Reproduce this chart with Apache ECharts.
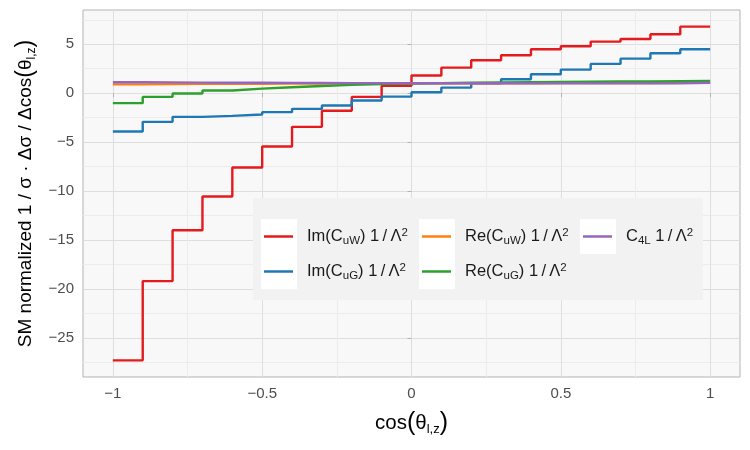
<!DOCTYPE html>
<html>
<head>
<meta charset="utf-8">
<script src="https://cdn.jsdelivr.net/npm/echarts@6/dist/echarts.min.js"></script>
<style>
  html, body { margin: 0; padding: 0; background: #fff; }
  #main { width: 750px; height: 450px; }
</style>
</head>
<body>
<div id="main"></div>
<script>
// bin edges of cos(theta_l,z), 20 bins
var binEdges = [-1, -0.9, -0.8, -0.7, -0.6, -0.5, -0.4, -0.3, -0.2, -0.1, 0,
                0.1, 0.2, 0.3, 0.4, 0.5, 0.6, 0.7, 0.8, 0.9, 1];

var imCuW = [-27.3, -19.2, -14.0, -10.55, -7.6, -5.45, -3.44, -1.8, -0.38, 0.76,
             1.8, 2.61, 3.37, 3.88, 4.49, 4.8, 5.27, 5.54, 6.02, 6.8];
var imCuG = [-3.92, -2.93, -2.42, -2.32, -2.18, -1.94, -1.6, -1.26, -0.75, -0.35,
             0.1, 0.57, 1.02, 1.43, 1.94, 2.41, 2.99, 3.53, 4.08, 4.49];
var reCuW = [0.9, 0.93, 0.95, 0.96, 0.97, 0.98, 0.99, 1.0, 1.0, 1.0,
             1.01, 1.01, 1.02, 1.02, 1.03, 1.03, 1.04, 1.04, 1.05, 1.05];
var reCuG = [-1.02, -0.38, -0.03, 0.27, 0.47, 0.61, 0.74, 0.85, 0.93, 0.98,
             1.03, 1.07, 1.1, 1.13, 1.15, 1.17, 1.19, 1.2, 1.22, 1.24];
var c4L   = [1.12, 1.1, 1.08, 1.07, 1.06, 1.05, 1.04, 1.03, 1.03, 1.02,
             1.02, 1.01, 1.01, 1.0, 1.0, 1.0, 1.0, 1.0, 1.02, 1.06];

var xTicks = [-1, -0.5, 0, 0.5, 1];
var xMinor = [-0.75, -0.25, 0.25, 0.75];
var yTicks = [-25, -20, -15, -10, -5, 0, 5];
var yMinor = [-27.5, -22.5, -17.5, -12.5, -7.5, -2.5, 2.5, 7.5];

var names = ['Im(CuW)', 'Im(CuG)', 'Re(CuW)', 'Re(CuG)', 'C4L'];
var labels = {
    'Im(CuW)': 'Im(C{sub|uW}) 1\u2009/\u2009Λ{sup|2}',
    'Im(CuG)': 'Im(C{sub|uG}) 1\u2009/\u2009Λ{sup|2}',
    'Re(CuW)': 'Re(C{sub|uW}) 1\u2009/\u2009Λ{sup|2}',
    'Re(CuG)': 'Re(C{sub|uG}) 1\u2009/\u2009Λ{sup|2}',
    'C4L': 'C{sub|4L} 1\u2009/\u2009Λ{sup|2}'
};
var colors = ['#E41A1C', '#1F78B4', '#FF7F0E', '#2CA02C', '#9467BD'];

var FONT = '"Liberation Sans", Arial, Helvetica, sans-serif';

function stepData(vals) {
    // points at left bin edges, closing point at the last edge
    return binEdges.map(function (x, i) {
        return [x, vals[Math.min(i, vals.length - 1)]];
    });
}

function minus(v) {
    return String(v).replace('-', '\u2212');
}

var richText = {
    sub: { fontSize: 11.5, verticalAlign: 'bottom', lineHeight: 17, fontFamily: FONT, color: '#1a1a1a' },
    sup: { fontSize: 11.5, verticalAlign: 'top', lineHeight: 12, fontFamily: FONT, color: '#1a1a1a' }
};

function buildChart() {
    var chart = echarts.init(document.getElementById('main'), null, { renderer: 'canvas' });

    var seriesVals = [imCuW, imCuG, reCuW, reCuG, c4L];
    var series = seriesVals.map(function (vals, i) {
        return {
            name: names[i],
            type: 'line',
            step: 'end',
            xAxisIndex: 1,
            yAxisIndex: 1,
            showSymbol: false,
            symbol: 'none',
            lineStyle: { width: 2.4, color: colors[i] },
            itemStyle: { color: colors[i] },
            emphasis: { disabled: true },
            data: stepData(vals)
        };
    });

    // legend, one component per entry (column-major like ggplot)
    var legendPos = [
        { name: 'Im(CuW)', left: 264, top: 226.5 },
        { name: 'Im(CuG)', left: 264, top: 261.5 },
        { name: 'Re(CuW)', left: 422, top: 226.5 },
        { name: 'Re(CuG)', left: 422, top: 261.5 },
        { name: 'C4L', left: 583, top: 226.5 }
    ];
    var legends = legendPos.map(function (p) {
        return {
            data: [p.name],
            left: p.left,
            top: p.top,
            padding: 0,
            icon: 'rect',
            itemWidth: 29,
            itemHeight: 2.5,
            selectedMode: false,
            z: 6,
            formatter: function (n) { return labels[n]; },
            textStyle: {
                fontFamily: FONT,
                fontSize: 16.5,
                color: '#1a1a1a',
                lineHeight: 20,
                padding: [0, 0, 0, 9],
                rich: richText
            }
        };
    });

    var keyBoxes = [[261, 219], [261, 254], [419, 219], [419, 254], [580, 219]].map(function (k) {
        return {
            type: 'rect', z: 5,
            shape: { x: k[0], y: k[1], width: 36, height: 35 },
            style: { fill: '#FFFFFF' }
        };
    });

    var option = {
        backgroundColor: '#FFFFFF',
        animation: false,
        color: colors,
        grid: {
            left: 83, right: 10, top: 10, bottom: 73,
            show: true,
            backgroundColor: '#F8F8F8',
            borderColor: '#B3B3B3',
            borderWidth: 1
        },
        legend: legends,
        graphic: [{
            type: 'rect', z: 4,
            shape: { x: 253, y: 198, width: 450, height: 102 },
            style: { fill: '#F2F2F2' }
        }].concat(keyBoxes),
        xAxis: [{
            // minor grid
            type: 'value', min: -1.1, max: 1.1, position: 'top',
            axisLine: { show: false },
            axisLabel: { show: false },
            axisTick: { show: false, customValues: xMinor },
            splitLine: { show: true, lineStyle: { color: '#ECECEC', width: 1 } }
        }, {
            type: 'value', min: -1.1, max: 1.1, position: 'bottom',
            axisLine: { show: false },
            axisTick: { show: true, length: 4, customValues: xTicks, lineStyle: { color: '#B3B3B3' } },
            axisLabel: {
                customValues: xTicks, margin: 9,
                fontFamily: FONT, fontSize: 15, color: '#4D4D4D',
                formatter: minus
            },
            splitLine: { show: true, lineStyle: { color: '#DEDEDE', width: 1 } },
            name: '{t|cos}{p|(}{t|θ}{s|l,z}{p|)}',
            nameLocation: 'middle',
            nameGap: 33,
            nameTextStyle: {
                color: '#000',
                rich: {
                    t: { fontFamily: FONT, fontSize: 20.5, color: '#000', lineHeight: 26 },
                    p: { fontFamily: FONT, fontSize: 25, color: '#000', lineHeight: 26 },
                    s: { fontFamily: FONT, fontSize: 13, color: '#000', verticalAlign: 'bottom', lineHeight: 21 }
                }
            }
        }],
        yAxis: [{
            type: 'value', min: -29, max: 8.5, position: 'right',
            axisLine: { show: false },
            axisLabel: { show: false },
            axisTick: { show: false, customValues: yMinor },
            splitLine: { show: true, lineStyle: { color: '#ECECEC', width: 1 } }
        }, {
            type: 'value', min: -29, max: 8.5, position: 'left',
            axisLine: { show: false },
            axisTick: { show: true, length: 4, customValues: yTicks, lineStyle: { color: '#B3B3B3' } },
            axisLabel: {
                customValues: yTicks, margin: 9,
                fontFamily: FONT, fontSize: 15, color: '#4D4D4D',
                formatter: minus
            },
            splitLine: { show: true, lineStyle: { color: '#DEDEDE', width: 1 } },
            name: '{t|SM normalized 1 / σ · Δσ / Δcos}{p|(}{t|θ}{s|l,z}{p|)}',
            nameLocation: 'middle',
            nameGap: 45,
            nameRotate: 90,
            nameTextStyle: {
                color: '#000',
                rich: {
                    t: { fontFamily: FONT, fontSize: 19, color: '#000', lineHeight: 23 },
                    p: { fontFamily: FONT, fontSize: 23, color: '#000', lineHeight: 23 },
                    s: { fontFamily: FONT, fontSize: 12, color: '#000', verticalAlign: 'bottom', lineHeight: 19 }
                }
            }
        }],
        series: series
    };

    chart.setOption(option);
}

buildChart();
</script>
</body>
</html>
